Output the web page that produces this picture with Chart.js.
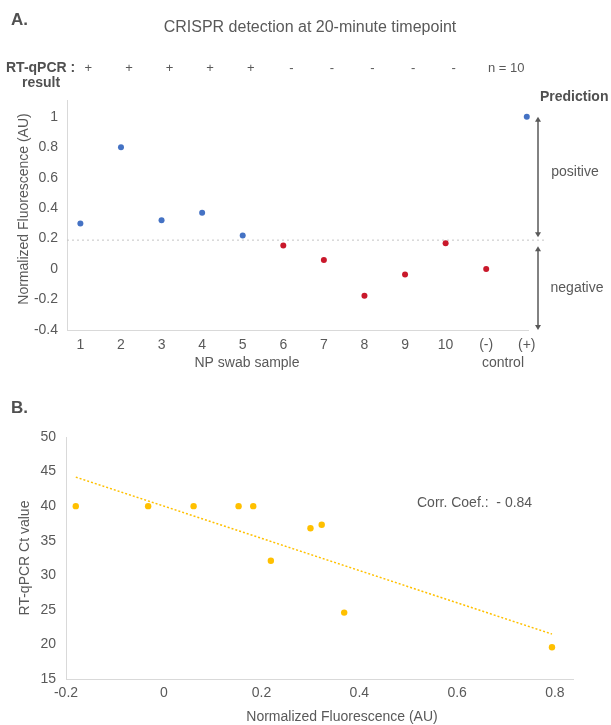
<!DOCTYPE html>
<html>
<head>
<meta charset="utf-8">
<script src="https://cdn.jsdelivr.net/npm/chart.js@4.4.1/dist/chart.umd.min.js"></script>
<style>
  body { margin: 0; background: #fff; }
  .wrap { position: absolute; left: 0; width: 611px; }
</style>
</head>
<body>
<div class="wrap" style="top:0;height:375px"><canvas id="chartA" width="611" height="375"></canvas></div>
<div class="wrap" style="top:375px;height:350px"><canvas id="chartB" width="611" height="350"></canvas></div>
<script>
// panel A data
const samplesA = ['1', '2', '3', '4', '5', '6', '7', '8', '9', '10', '(-)', '(+)'];
const fluorA = [0.30, 0.80, 0.32, 0.37, 0.22, 0.155, 0.06, -0.175, -0.035, 0.17, 0.0, 1.0];
const rtqpcrA = ['+', '+', '+', '+', '+', '-', '-', '-', '-', '-'];
const yTicksA = [-0.4, -0.2, 0, 0.2, 0.4, 0.6, 0.8, 1];
const threshold = 0.19;

// panel B data
const fluorB = [-0.18, -0.032, 0.061, 0.153, 0.183, 0.219, 0.30, 0.323, 0.369, 0.794];
const ctB = [40, 40, 40, 40, 40, 32.1, 36.8, 37.3, 24.6, 19.6];
const trendX = [-0.18, 0.794];
const trendY = [44.2, 21.5];
const xTicksB = [-0.2, 0, 0.2, 0.4, 0.6, 0.8];
const yTicksB = [15, 20, 25, 30, 35, 40, 45, 50];

const FONT = '"Liberation Sans", Arial, sans-serif';
const gray = '#595959';
const dark = '#505050';
const blue = '#4472C4';
const red = '#C9182B';
const gold = '#FFC000';

Chart.defaults.font.family = FONT;
Chart.defaults.color = gray;

function txt(ctx, s, x, y, size, align, bold, color) {
    ctx.save();
    ctx.font = (bold ? 'bold ' : '') + size + 'px ' + FONT;
    ctx.fillStyle = color || gray;
    ctx.textAlign = align;
    ctx.textBaseline = 'middle';
    ctx.fillText(s, x, y);
    ctx.restore();
}

function vtxt(ctx, s, x, y, size) {
    ctx.save();
    ctx.translate(x, y);
    ctx.rotate(-Math.PI / 2);
    txt(ctx, s, 0, 0, size, 'center', false);
    ctx.restore();
}

function arrow(ctx, x, y1, y2) {
    ctx.save();
    ctx.strokeStyle = gray;
    ctx.fillStyle = gray;
    ctx.lineWidth = 1.5;
    ctx.beginPath();
    ctx.moveTo(x, y1 + 3);
    ctx.lineTo(x, y2 - 3);
    ctx.stroke();
    ctx.beginPath();
    ctx.moveTo(x, y1); ctx.lineTo(x - 3, y1 + 5); ctx.lineTo(x + 3, y1 + 5); ctx.closePath();
    ctx.fill();
    ctx.beginPath();
    ctx.moveTo(x, y2); ctx.lineTo(x - 3, y2 - 5); ctx.lineTo(x + 3, y2 - 5); ctx.closePath();
    ctx.fill();
    ctx.restore();
}

const labelsA = {
    id: 'labelsA',
    afterDraw(chart) {
        const ctx = chart.ctx;
        const xs = chart.scales.x, ys = chart.scales.y;
        const area = chart.chartArea;
        txt(ctx, 'A.', 11, 20, 17, 'left', true, dark);
        txt(ctx, 'CRISPR detection at 20-minute timepoint', 310, 28, 16, 'center', false);
        txt(ctx, 'RT-qPCR :', 6, 68, 14, 'left', true, dark);
        txt(ctx, 'result', 41, 83, 14, 'center', true, dark);
        rtqpcrA.forEach((r, i) => {
            txt(ctx, r, xs.getPixelForValue(i + 1) + 8, 68, 13, 'center', false);
        });
        txt(ctx, 'n = 10', 488, 68, 13, 'left', false);
        txt(ctx, 'Prediction', 540, 97, 14, 'left', true, dark);
        const ax = area.right + 10;
        arrow(ctx, ax, ys.getPixelForValue(1), ys.getPixelForValue(threshold) - 3);
        arrow(ctx, ax, ys.getPixelForValue(threshold) + 6, ys.getPixelForValue(-0.4));
        txt(ctx, 'positive', 575, 172, 14, 'center', false);
        txt(ctx, 'negative', 577, 288, 14, 'center', false);
        txt(ctx, 'NP swab sample', 247, 363, 14, 'center', false);
        txt(ctx, 'control', 503, 363, 14, 'center', false);
        vtxt(ctx, 'Normalized Fluorescence (AU)', 24, 209, 14);
    }
};

const labelsB = {
    id: 'labelsB',
    afterDraw(chart) {
        const ctx = chart.ctx;
        txt(ctx, 'B.', 11, 33, 17, 'left', true, dark);
        vtxt(ctx, 'RT-qPCR Ct value', 25, 183, 14);
        txt(ctx, 'Normalized Fluorescence (AU)', 342, 342, 14, 'center', false);
        txt(ctx, 'Corr. Coef.:  - 0.84', 417, 128, 14, 'left', false);
    }
};

new Chart(document.getElementById('chartA'), {
    type: 'scatter',
    data: {
        datasets: [{
            data: fluorA.map((v, i) => ({ x: i + 1, y: v })),
            pointBackgroundColor: fluorA.map(v => v > threshold ? blue : red),
            pointBorderWidth: 0,
            pointRadius: 3,
            clip: false
        }, {
            type: 'line',
            data: [{ x: 0.67, y: threshold }, { x: 12.44, y: threshold }],
            borderColor: '#c4c4c4',
            borderWidth: 1,
            borderDash: [2, 3],
            pointRadius: 0,
            clip: false
        }]
    },
    plugins: [labelsA],
    options: {
        responsive: false,
        animation: false,
        layout: { padding: { left: 0, top: 100, right: 83, bottom: 0 } },
        plugins: { legend: { display: false }, tooltip: { enabled: false } },
        scales: {
            x: {
                type: 'linear', min: 0.67, max: 12.03,
                grid: { display: false, drawTicks: false },
                border: { color: '#d9d9d9' },
                afterBuildTicks: s => { s.ticks = samplesA.map((c, i) => ({ value: i + 1 })); },
                afterFit: s => { s.height = 45; },
                ticks: { padding: 7, font: { size: 14 }, color: gray, callback: v => samplesA[v - 1] }
            },
            y: {
                min: -0.4, max: 1.11,
                grid: { display: false, drawTicks: false },
                border: { color: '#d9d9d9' },
                afterBuildTicks: s => { s.ticks = yTicksA.map(v => ({ value: v })); },
                afterFit: s => { s.width = 67; },
                ticks: { padding: 9, font: { size: 14 }, color: gray, callback: v => String(Math.round(v * 10) / 10) }
            }
        }
    }
});

new Chart(document.getElementById('chartB'), {
    type: 'scatter',
    data: {
        datasets: [{
            data: fluorB.map((v, i) => ({ x: v, y: ctB[i] })),
            pointBackgroundColor: gold,
            pointBorderWidth: 0,
            pointRadius: 3.2,
            clip: false
        }, {
            type: 'line',
            data: trendX.map((v, i) => ({ x: v, y: trendY[i] })),
            borderColor: gold,
            borderWidth: 1.5,
            borderDash: [2, 2],
            pointRadius: 0
        }]
    },
    plugins: [labelsB],
    options: {
        responsive: false,
        animation: false,
        layout: { padding: { left: 0, top: 62, right: 38, bottom: 0 } },
        plugins: { legend: { display: false }, tooltip: { enabled: false } },
        scales: {
            x: {
                type: 'linear', min: -0.2, max: 0.837,
                grid: { display: false, drawTicks: false },
                border: { color: '#d9d9d9' },
                afterBuildTicks: s => { s.ticks = xTicksB.map(v => ({ value: v })); },
                afterFit: s => { s.height = 46; },
                ticks: { padding: 6, font: { size: 14 }, color: gray, callback: v => String(Math.round(v * 10) / 10) }
            },
            y: {
                min: 15, max: 50,
                grid: { display: false, drawTicks: false },
                border: { color: '#d9d9d9' },
                afterBuildTicks: s => { s.ticks = yTicksB.map(v => ({ value: v })); },
                afterFit: s => { s.width = 66; },
                ticks: { padding: 10, font: { size: 14 }, color: gray }
            }
        }
    }
});
</script>
</body>
</html>
